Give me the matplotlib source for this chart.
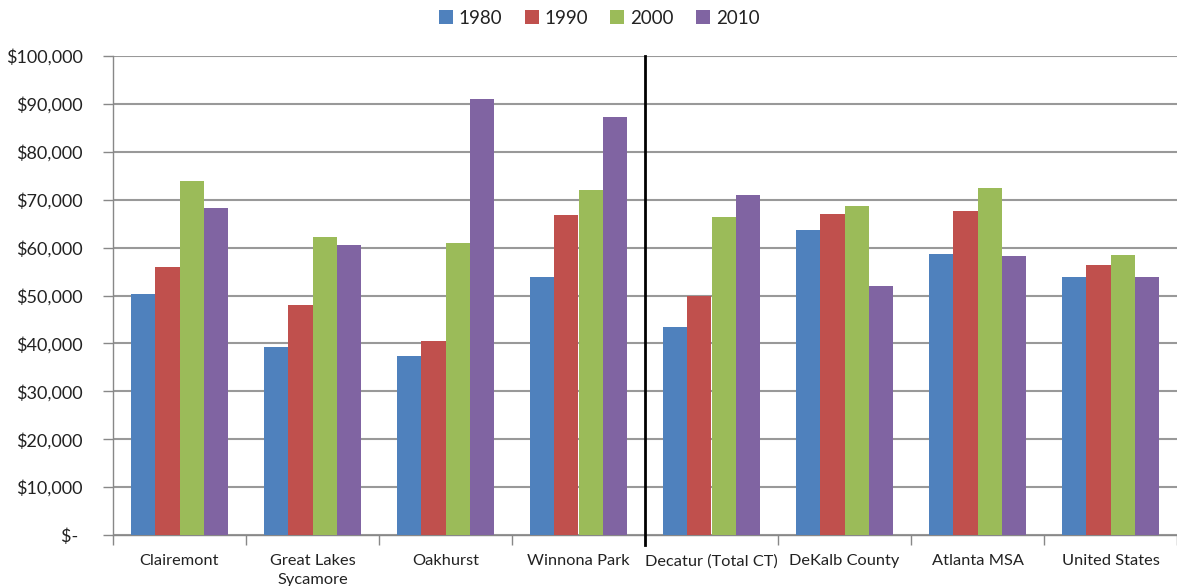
import numpy as np
import matplotlib.pyplot as plt
from matplotlib.ticker import FuncFormatter

plt.rcParams['font.family'] = ['Lato', 'DejaVu Sans']

places = ['Clairemont', 'Great Lakes\nSycamore', 'Oakhurst', 'Winnona Park',
          'Decatur (Total CT)', 'DeKalb County', 'Atlanta MSA', 'United States']
years = ['1980', '1990', '2000', '2010']

inc1980 = [50400, 39200, 37400, 53900, 43400, 63700, 58700, 53900]
inc1990 = [56000, 48100, 40600, 66800, 50000, 67000, 67700, 56400]
inc2000 = [74000, 62200, 61000, 72000, 66400, 68700, 72500, 58500]
inc2010 = [68300, 60600, 91000, 87300, 71000, 52000, 58300, 53900]

colors = ['#4F81BD', '#C0504D', '#9BBB59', '#8064A2']

fig = plt.figure(figsize=(11.77, 5.86), dpi=100)
ax = fig.add_axes([113/1177, 1 - 535/586, 1 - 113/1177, (535 - 56)/586])

x = np.arange(len(places))
w = 0.182
for i, (vals, c, lab) in enumerate(zip([inc1980, inc1990, inc2000, inc2010], colors, years)):
    ax.bar(x + (i - 1.5) * w, vals, width=w, color=c, label=lab, zorder=3)

ax.set_xlim(-0.5, len(places) - 0.5)
ax.set_ylim(0, 100000)
ax.set_yticks(np.arange(0, 100001, 10000))
ax.yaxis.set_major_formatter(FuncFormatter(lambda v, p: '$- ' if v == 0 else '${:,.0f}'.format(v)))
ax.grid(axis='y', color='#999999', linewidth=1.5, zorder=0)

# category labels centred, tick marks at group boundaries
ax.set_xticks(x)
ax.set_xticklabels(places, fontsize=11.8, color='#222222', va='top', linespacing=1.45)
ax.tick_params(axis='x', length=0, pad=14)
ax.set_xticks(np.arange(-0.5, len(places), 1), minor=True)
ax.tick_params(axis='x', which='minor', length=7, width=1, color='#888888')
ax.tick_params(axis='y', length=7, width=1, color='#888888', labelsize=13, pad=15,
               labelcolor='#222222')

for s in ['top', 'right']:
    ax.spines[s].set_visible(False)
ax.spines['left'].set_color('#888888')
ax.spines['bottom'].set_color('#888888')
ax.spines['left'].set_linewidth(1)
ax.spines['bottom'].set_linewidth(1)

# divider between neighbourhoods and larger areas
ax.axvline(3.5, ymin=-0.021, ymax=1, color='black', linewidth=2, clip_on=False, zorder=4)

fig.legend(loc='center', bbox_to_anchor=(599/1177, 1 - 18/586), ncol=4, frameon=False,
           fontsize=13.5, handlelength=0.75, handleheight=0.75, handletextpad=0.3,
           columnspacing=1.2, labelcolor='#222222')

fig.savefig('out.png', dpi=100)
